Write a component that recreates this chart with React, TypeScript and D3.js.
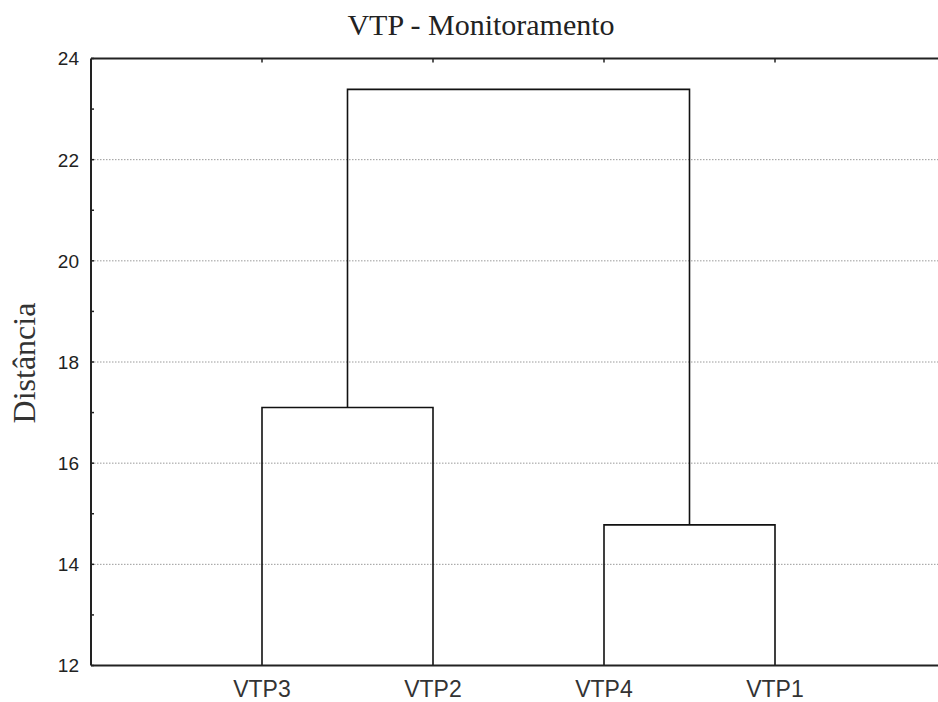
import React from "react";
import * as d3 from "d3";

// Leaf order along the x axis
const leaves = ["VTP3", "VTP2", "VTP4", "VTP1"];

// Agglomeration steps: each joins two clusters at a linkage distance
const joinLeft = ["VTP3", "VTP4", "A"];
const joinRight = ["VTP2", "VTP1", "B"];
const joinName = ["A", "B", "C"];
const joinHeight = [17.1, 14.78, 23.39];

// Axis values
const yTicksMajor = [12, 14, 16, 18, 20, 22, 24];
const yTicksMinor = [13, 15, 17, 19, 21, 23];
const yDomain = [12, 24];

const title = "VTP - Monitoramento";
const yLabel = "Distância";

const W = 938;
const H = 702;
const left = 91;
const top = 58.5;
const bottom = 665.5;

export default function App() {
  const x = d3.scaleLinear().domain([0, leaves.length + 1]).range([left, 946]);
  const y = d3.scaleLinear().domain(yDomain).range([bottom, top]);

  // Node positions: leaves sit on the baseline, joins at their distance
  const pos: Record<string, { x: number; h: number }> = {};
  leaves.forEach((name, i) => {
    pos[name] = { x: x(i + 1), h: yDomain[0] };
  });
  const links: string[] = [];
  joinName.forEach((name, i) => {
    const a = pos[joinLeft[i]];
    const b = pos[joinRight[i]];
    const h = joinHeight[i];
    pos[name] = { x: (a.x + b.x) / 2, h };
    const p = d3.path();
    p.moveTo(a.x, y(a.h));
    p.lineTo(a.x, y(h));
    p.lineTo(b.x, y(h));
    p.lineTo(b.x, y(b.h));
    links.push(p.toString());
  });

  const axisColor = "#222";
  const sans = "'Liberation Sans', Arial, sans-serif";
  const serif = "'Liberation Serif', 'Times New Roman', serif";

  return (
    <div style={{ position: "absolute", left: 0, top: 0 }}>
      <svg width={W} height={H} style={{ display: "block", background: "#fff" }}>
        {/* horizontal dotted grid */}
        {yTicksMajor
          .filter((v) => v !== yDomain[0] && v !== yDomain[1])
          .map((v) => (
            <line
              key={"g" + v}
              x1={left}
              x2={W}
              y1={y(v)}
              y2={y(v)}
              stroke="#9a9a9a"
              strokeWidth={1}
              strokeDasharray="1.5,1.5"
            />
          ))}

        {/* dendrogram links */}
        {links.map((d, i) => (
          <path key={"l" + i} d={d} fill="none" stroke="#111" strokeWidth={1.6} />
        ))}

        {/* frame: left, top, bottom */}
        <line x1={left} x2={left} y1={top} y2={bottom} stroke={axisColor} strokeWidth={2} />
        <line x1={left} x2={W} y1={top} y2={top} stroke={axisColor} strokeWidth={2} />
        <line x1={left} x2={W} y1={bottom} y2={bottom} stroke={axisColor} strokeWidth={2} />

        {/* left axis ticks and labels */}
        {yTicksMajor.map((v) => (
          <g key={"t" + v}>
            <line x1={left} x2={left + 3} y1={y(v)} y2={y(v)} stroke={axisColor} strokeWidth={1.5} />
            <text
              x={79}
              y={y(v)}
              dy="0.36em"
              textAnchor="end"
              fontFamily={sans}
              fontSize={19}
              fill="#222"
            >
              {v}
            </text>
          </g>
        ))}
        {yTicksMinor.map((v) => (
          <line key={"m" + v} x1={left} x2={left + 3} y1={y(v)} y2={y(v)} stroke={axisColor} strokeWidth={1.5} />
        ))}

        {/* top axis ticks at leaf positions */}
        {leaves.map((name, i) => (
          <line key={"tt" + name} x1={x(i + 1)} x2={x(i + 1)} y1={top} y2={top + 4} stroke={axisColor} strokeWidth={1.5} />
        ))}

        {/* leaf labels */}
        {leaves.map((name, i) => (
          <text
            key={"c" + name}
            x={x(i + 1)}
            y={697}
            textAnchor="middle"
            fontFamily={sans}
            fontSize={23}
            fill="#333"
          >
            {name}
          </text>
        ))}

        {/* title */}
        <text x={481} y={35} textAnchor="middle" fontFamily={serif} fontSize={30} fill="#222">
          {title}
        </text>

        {/* y axis title */}
        <text
          transform={`translate(35, ${363}) rotate(-90)`}
          textAnchor="middle"
          fontFamily={serif}
          fontSize={32}
          fill="#333"
        >
          {yLabel}
        </text>
      </svg>
    </div>
  );
}
